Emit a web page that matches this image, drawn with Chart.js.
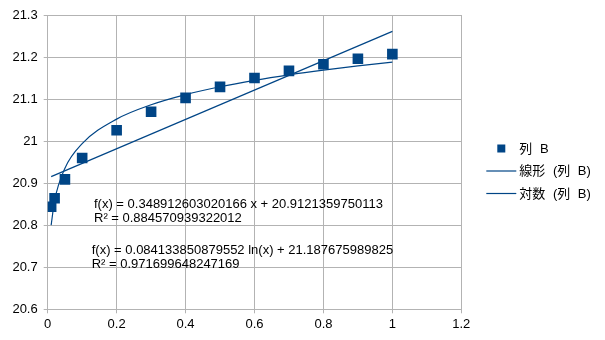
<!DOCTYPE html>
<html>
<head>
<meta charset="utf-8">
<script src="https://cdn.jsdelivr.net/npm/chart.js@4"></script>
<style>
  html, body { margin: 0; padding: 0; background: #fff; }
  #wrap { width: 605px; height: 340px; }
</style>
</head>
<body>
<div id="wrap"><canvas id="scatter-chart"></canvas></div>
<script>
var xValues = [0.01, 0.02, 0.05, 0.1, 0.2, 0.3, 0.4, 0.5, 0.6, 0.7, 0.8, 0.9, 1.0];
var colB = [20.844, 20.864, 20.909, 20.960, 21.026, 21.070, 21.103, 21.129, 21.150, 21.167, 21.183, 21.196, 21.207];

// trend lines, read at the ends / at each x
var linearX = [0.01, 1.0];
var linearY = [20.9156, 21.2610];
var logY = [20.8002, 20.8585, 20.9356, 20.9940, 21.0523, 21.0864, 21.1106, 21.1294, 21.1447, 21.1577, 21.1689, 21.1788, 21.1877];

var seriesNames = ['列 B', '線形 (列 B)', '対数 (列 B)'];
var equations = [
  ['f(x) = 0.348912603020166 x + 20.9121359750113', 'R² = 0.884570939322012'],
  ['f(x) = 0.084133850879552 ln(x) + 21.187675989825', 'R² = 0.971699648247169']
];

var blue = '#004586';
var font = "'Liberation Sans', 'Noto Sans CJK JP', sans-serif";

function pts(xs, ys) {
  return xs.map(function(x, i) { return { x: x, y: ys[i] }; });
}

// equations + legend
var extras = {
  id: 'extras',
  afterDraw: function(chart) {
    var ctx = chart.ctx;
    var sx = chart.scales.x, sy = chart.scales.y;
    ctx.save();
    ctx.font = '13px ' + font;
    ctx.fillStyle = '#000';
    ctx.textBaseline = 'alphabetic';
    ctx.textAlign = 'left';
    var anchors = [[0.1343, 20.842], [0.1277, 20.7326]];
    equations.forEach(function(lines, i) {
      var px = sx.getPixelForValue(anchors[i][0]);
      var py = sy.getPixelForValue(anchors[i][1]);
      ctx.fillText(lines[0], px, py);
      ctx.fillText(lines[1], px, py + 14.5);
    });

    // legend
    var lx = chart.chartArea.right + 25;
    var ly = 148.5;
    ctx.textBaseline = 'middle';
    ctx.wordSpacing = '4px';
    seriesNames.forEach(function(name, i) {
      var y = ly + i * 22.5;
      if (i == 0) {
        ctx.fillStyle = blue;
        ctx.fillRect(lx + 11, y - 4, 8, 8);
      } else {
        ctx.strokeStyle = blue;
        ctx.lineWidth = 1.2;
        ctx.beginPath();
        ctx.moveTo(lx, y);
        ctx.lineTo(lx + 30, y);
        ctx.stroke();
      }
      ctx.fillStyle = '#000';
      ctx.fillText(name, lx + 33, y + 0.5);
    });
    ctx.restore();
  }
};

var ctx = document.getElementById('scatter-chart');

new Chart(ctx, {
  type: 'scatter',
  data: {
    datasets: [{
      label: seriesNames[0],
      data: pts(xValues, colB),
      pointStyle: 'rect',
      pointRadius: 7.5,
      pointHoverRadius: 7.5,
      backgroundColor: blue,
      borderColor: blue,
      borderWidth: 0,
      order: 0
    }, {
      label: seriesNames[1],
      type: 'line',
      data: pts(linearX, linearY),
      showLine: true,
      pointRadius: 0,
      borderColor: blue,
      borderWidth: 1.2,
      fill: false,
      order: 1
    }, {
      label: seriesNames[2],
      type: 'line',
      data: pts(xValues, logY),
      showLine: true,
      pointRadius: 0,
      borderColor: blue,
      borderWidth: 1.2,
      cubicInterpolationMode: 'monotone',
      fill: false,
      order: 2
    }]
  },
  options: {
    responsive: true,
    maintainAspectRatio: false,
    animation: false,
    events: [],
    layout: {
      padding: { top: 15, right: 143.7, bottom: 0, left: 0 }
    },
    plugins: {
      legend: { display: false },
      tooltip: { enabled: false }
    },
    scales: {
      x: {
        type: 'linear',
        min: 0,
        max: 1.2,
        afterFit: function(scale) { scale.height = 30.7; },
        ticks: {
          stepSize: 0.2,
          padding: 3,
          color: '#000',
          font: { family: font, size: 13 },
          callback: function(v) { return +v.toFixed(1) + ''; }
        },
        grid: { color: '#b3b3b3', tickLength: 4, drawOnChartArea: true },
        border: { color: '#b3b3b3' }
      },
      y: {
        min: 20.6,
        max: 21.3,
        afterFit: function(scale) { scale.width = 47.7; },
        ticks: {
          stepSize: 0.1,
          padding: 6,
          color: '#000',
          font: { family: font, size: 13 },
          callback: function(v) { return +v.toFixed(1) + ''; }
        },
        grid: { color: '#b3b3b3', tickLength: 4 },
        border: { color: '#b3b3b3' }
      }
    }
  },
  plugins: [extras]
});
</script>
</body>
</html>
